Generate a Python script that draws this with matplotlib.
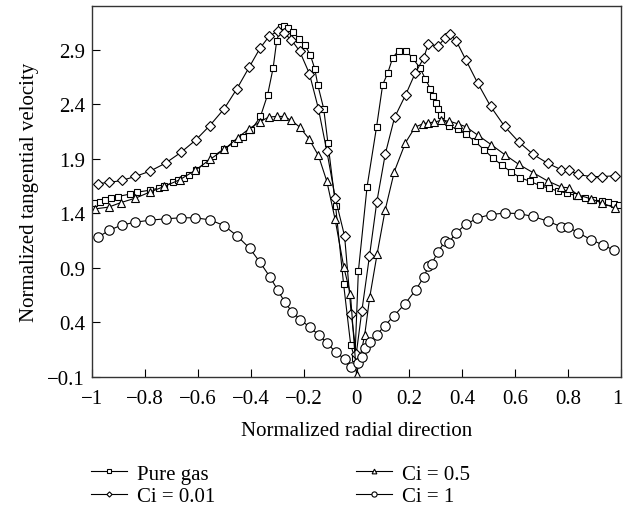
import numpy as np
import matplotlib
matplotlib.use('Agg')
import matplotlib.pyplot as plt
from matplotlib.transforms import ScaledTranslation

# ---- data ----
pure_x = [-0.991, -0.971, -0.949, -0.928, -0.903, -0.857, -0.830, -0.780, -0.748, -0.727,
          -0.692, -0.673, -0.654, -0.635, -0.606, -0.573, -0.541, -0.500, -0.463, -0.428,
          -0.397, -0.363, -0.336, -0.315, -0.302, -0.286, -0.274, -0.259, -0.240, -0.217,
          -0.196, -0.174, -0.158, -0.146, -0.124, -0.108, -0.079, -0.049, -0.022, -0.006,
          0.007, 0.040, 0.076, 0.099, 0.118, 0.137, 0.159, 0.187, 0.212, 0.240,
          0.260, 0.279, 0.291, 0.302, 0.310, 0.319, 0.350, 0.382, 0.413, 0.448,
          0.482, 0.516, 0.551, 0.585, 0.620, 0.657, 0.693, 0.727, 0.761, 0.796,
          0.830, 0.865, 0.896, 0.928, 0.950, 0.973, 0.991]
pure_y = [1.493, 1.508, 1.524, 1.539, 1.554, 1.576, 1.594, 1.612, 1.631, 1.649,
          1.686, 1.701, 1.723, 1.747, 1.793, 1.863, 1.924, 1.992, 2.047, 2.099,
          2.166, 2.288, 2.487, 2.735, 2.976, 3.111, 3.117, 3.098, 3.061, 3.000,
          2.946, 2.848, 2.726, 2.573, 2.359, 2.044, 1.466, 0.756, 0.195, 0.070,
          0.868, 1.644, 2.194, 2.579, 2.685, 2.827, 2.891, 2.891, 2.823, 2.732,
          2.634, 2.542, 2.472, 2.411, 2.359, 2.297, 2.200, 2.170, 2.125, 2.059,
          1.983, 1.906, 1.839, 1.778, 1.726, 1.692, 1.655, 1.631, 1.604, 1.585,
          1.563, 1.542, 1.524, 1.512, 1.503, 1.487, 1.478]

ci001_x = [-0.978, -0.934, -0.888, -0.836, -0.780, -0.722, -0.664, -0.608, -0.555, -0.500,
           -0.452, -0.406, -0.365, -0.330, -0.296, -0.275, -0.246, -0.215, -0.178, -0.144,
           -0.112, -0.080, -0.045, -0.020, -0.001, 0.020, 0.049, 0.077, 0.109, 0.144,
           0.186, 0.222, 0.254, 0.271, 0.309, 0.334, 0.353, 0.378, 0.413, 0.458,
           0.507, 0.560, 0.614, 0.668, 0.724, 0.775, 0.802, 0.836, 0.886, 0.930, 0.976]
ci001_y = [1.673, 1.683, 1.701, 1.738, 1.787, 1.860, 1.958, 2.071, 2.203, 2.359,
           2.542, 2.738, 2.912, 3.024, 3.071, 3.053, 2.990, 2.886, 2.680, 2.359,
           1.967, 1.538, 1.191, 0.481, 0.110, 0.502, 1.008, 1.508, 1.946, 2.279,
           2.487, 2.685, 2.823, 2.950, 2.933, 3.007, 3.047, 2.976, 2.808, 2.594,
           2.380, 2.196, 2.053, 1.940, 1.857, 1.799, 1.799, 1.756, 1.737, 1.737, 1.744]

ci05_x = [-0.987, -0.937, -0.890, -0.836, -0.782, -0.727, -0.669, -0.610, -0.554, -0.500,
          -0.449, -0.406, -0.365, -0.332, -0.302, -0.274, -0.246, -0.215, -0.180, -0.144,
          -0.112, -0.081, -0.048, -0.023, 0.000, 0.031, 0.050, 0.078, 0.108, 0.143,
          0.185, 0.222, 0.252, 0.272, 0.294, 0.319, 0.350, 0.382, 0.413, 0.460,
          0.510, 0.561, 0.614, 0.668, 0.724, 0.775, 0.802, 0.836, 0.886, 0.930, 0.976]
ci05_y = [1.441, 1.457, 1.499, 1.539, 1.594, 1.646, 1.707, 1.793, 1.894, 1.985,
          2.093, 2.175, 2.239, 2.282, 2.288, 2.288, 2.251, 2.191, 2.084, 1.930,
          1.692, 1.346, 0.906, 0.661, -0.080, 0.285, 0.631, 1.028, 1.426, 1.783,
          2.047, 2.191, 2.221, 2.230, 2.236, 2.251, 2.245, 2.221, 2.194, 2.114,
          2.028, 1.937, 1.848, 1.772, 1.695, 1.640, 1.634, 1.570, 1.533, 1.493, 1.450]

ci1_x = [-0.978, -0.934, -0.888, -0.836, -0.780, -0.722, -0.664, -0.609, -0.554, -0.501,
         -0.452, -0.404, -0.365, -0.328, -0.298, -0.271, -0.244, -0.212, -0.177, -0.142,
         -0.112, -0.079, -0.045, -0.020, 0.006, 0.021, 0.034, 0.052, 0.077, 0.107,
         0.142, 0.183, 0.225, 0.254, 0.272, 0.285, 0.308, 0.335, 0.348, 0.375,
         0.413, 0.457, 0.507, 0.560, 0.613, 0.668, 0.723, 0.772, 0.800, 0.836,
         0.886, 0.933, 0.974]
ci1_y = [1.180, 1.246, 1.292, 1.319, 1.337, 1.350, 1.359, 1.359, 1.340, 1.288,
         1.194, 1.080, 0.952, 0.820, 0.698, 0.585, 0.499, 0.426, 0.356, 0.285,
         0.212, 0.129, 0.065, -0.011, 0.030, 0.081, 0.163, 0.218, 0.288, 0.371,
         0.462, 0.570, 0.701, 0.815, 0.915, 0.940, 1.047, 1.145, 1.127, 1.218,
         1.298, 1.356, 1.389, 1.402, 1.398, 1.371, 1.328, 1.279, 1.276, 1.224,
         1.160, 1.108, 1.062]

labels = ['Pure gas', 'Ci = 0.01', 'Ci = 0.5', 'Ci = 1']
x_ticks = [-1, -0.8, -0.6, -0.4, -0.2, 0, 0.2, 0.4, 0.6, 0.8, 1]
y_ticks = [-0.1, 0.4, 0.9, 1.4, 1.9, 2.4, 2.9]


def fmt(v):
    s = f'{v:g}'
    return s.replace('-', '\u2212')


plt.rcParams['font.family'] = ['Liberation Serif', 'DejaVu Serif']
plt.rcParams['font.size'] = 15

fig = plt.figure(figsize=(6.23, 5.10), dpi=100)
ax = fig.add_axes([92 / 623, 1 - 378 / 510, 529 / 623, 371 / 510])

series = [
    (pure_x, pure_y, 's', 4.3),
    (ci001_x, ci001_y, 'D', 4.8),
    (ci05_x, ci05_y, '^', 6.2),
    (ci1_x, ci1_y, 'o', 6.8),
]
for (xs, ys, mk, ms), lab in zip(series, labels):
    ax.plot(xs, ys, '-', color='black', lw=0.8, marker=mk, ms=ms,
            mfc='white', mec='black', mew=0.8, label=lab)

ax.set_xlim(-1, 1)
ax.set_ylim(-0.1, 3.3)
ax.set_xticks(x_ticks)
ax.set_xticklabels([fmt(v) for v in x_ticks])
ax.set_yticks(y_ticks)
ax.set_yticklabels([fmt(v) for v in y_ticks])
ax.tick_params(direction='in', length=6, width=0.8, top=False, right=False)
ax.tick_params(axis='x', pad=9)
ax.tick_params(axis='y', pad=5)
# keep the last x label inside the canvas
last = ax.get_xticklabels()[-1]
last.set_transform(last.get_transform() + ScaledTranslation(-4 / 100, 0, fig.dpi_scale_trans))
for sp in ax.spines.values():
    sp.set_linewidth(1.0)
    sp.set_color('#333333')

ax.set_xlabel('Normalized radial direction', labelpad=9)
ax.set_ylabel('Normalized tangential velocity', labelpad=6)

fig.legend(loc='upper left', bbox_to_anchor=(91 / 623, 1 - 465 / 510), ncol=2,
           frameon=False, borderpad=0, borderaxespad=0, handlelength=1.75,
           handletextpad=0.45, columnspacing=6.75, labelspacing=0.15, markerscale=0.55)

fig.savefig('out.png', dpi=100)
